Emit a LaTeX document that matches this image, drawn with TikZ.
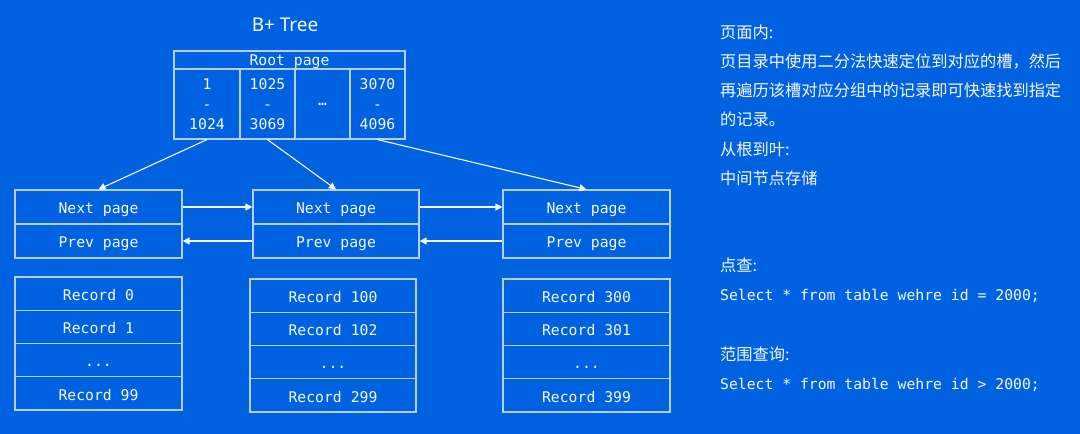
\documentclass[tikz,border=0pt]{standalone}
\usepackage{fontspec}
\setmainfont{Noto Sans}
\newfontfamily\monof{DejaVu Sans Mono}
\newfontfamily\cjk{Noto Sans CJK SC}
\usetikzlibrary{arrows.meta}
\definecolor{bg}{HTML}{0062E0}
\definecolor{linec}{HTML}{B4D0F8}
\definecolor{txt}{HTML}{F4F8FF}
\begin{document}
\begin{tikzpicture}[x=1bp,y=-1bp,
  cell/.style={draw=linec, line width=1.2bp, text=txt, font=\monof\fontsize{14.8}{20}\selectfont, inner sep=0pt, align=center},
  line1/.style={cell, text height=13.5bp, text depth=0pt},
  pagecell/.style={line1, minimum width=167bp, minimum height=34bp},
  midcell/.style={line1, minimum width=166bp, minimum height=34bp},
  reccell/.style={line1, minimum width=167bp, minimum height=33.25bp},
  midrec/.style={line1, minimum width=166bp, minimum height=33.25bp},
  conn/.style={draw=txt, line width=1.1bp, -{Triangle[length=7bp,width=7bp]}},
  note/.style={anchor=west, text=txt, inner sep=0pt, font=\cjk\fontsize{16.3}{20}\selectfont},
  code/.style={anchor=west, text=txt, inner sep=0pt, font=\monof\fontsize{14.8}{20}\selectfont}]
\fill[bg] (0,0) rectangle (1080,434);
\useasboundingbox (0,0) rectangle (1080,434);

% title
\node[text=txt, font=\fontsize{19}{22}\selectfont] (title) at (285,25) {B+ Tree};

% root page
\node[cell, text height=11.5bp, text depth=0pt, minimum width=231bp, minimum height=18bp] (root) at (289.5,60) {Root page};
\node[cell, minimum width=66bp, minimum height=70bp] (c1) at (207,104) {1\\-\\1024};
\node[cell, minimum width=55bp, minimum height=70bp] (c2) at (267.5,104) {1025\\-\\3069};
\node[cell, minimum width=55bp, minimum height=70bp] (c3) at (322.5,104) {…};
\node[cell, minimum width=55bp, minimum height=70bp] (c4) at (377.5,104) {3070\\-\\4096};

% leaf pages
\node[pagecell] (ln) at (98.5,207) {Next page};
\node[pagecell] (lp) at (98.5,241) {Prev page};
\node[midcell] (mn) at (336,207) {Next page};
\node[midcell] (mp) at (336,241) {Prev page};
\node[pagecell] (rn) at (586.5,207) {Next page};
\node[pagecell] (rp) at (586.5,241) {Prev page};

% records
\node[reccell] (lr1) at (98.5,293.6) {Record 0};
\node[reccell] (lr2) at (98.5,326.9) {Record 1};
\node[reccell] (lr3) at (98.5,360.1) {...};
\node[reccell] (lr4) at (98.5,393.4) {Record 99};
\node[midrec] (mr1) at (333,295.6) {Record 100};
\node[midrec] (mr2) at (333,328.9) {Record 102};
\node[midrec] (mr3) at (333,362.1) {...};
\node[midrec] (mr4) at (333,395.4) {Record 299};
\node[reccell] (rr1) at (586.5,295.6) {Record 300};
\node[reccell] (rr2) at (586.5,328.9) {Record 301};
\node[reccell] (rr3) at (586.5,362.1) {...};
\node[reccell] (rr4) at (586.5,395.4) {Record 399};

% connectors
\draw[conn] (c1.south) -- (ln.north);
\draw[conn] (c2.south) -- (mn.north);
\draw[conn] (c4.south) -- (rn.north);
\draw[conn] (ln.east) -- (mn.west);
\draw[conn] (mp.west) -- (lp.east);
\draw[conn] (mn.east) -- (rn.west);
\draw[conn] (rp.west) -- (mp.east);

% notes
\node[note] (t1) at (720,32) {页面内:};
\node[note] (t2) at (720,61) {页目录中使用二分法快速定位到对应的槽，然后};
\node[note] (t3) at (720,90) {再遍历该槽对应分组中的记录即可快速找到指定};
\node[note] (t4) at (720,119) {的记录。};
\node[note] (t5) at (720,149) {从根到叶:};
\node[note] (t6) at (720,178) {中间节点存储};
\node[note] (t7) at (720,265) {点查:};
\node[code] (q1) at (720,295.5) {Select * from table wehre id = 2000;};
\node[note] (t8) at (720,354) {范围查询:};
\node[code] (q2) at (720,384.5) {Select * from table wehre id > 2000;};
\end{tikzpicture}
\end{document}
